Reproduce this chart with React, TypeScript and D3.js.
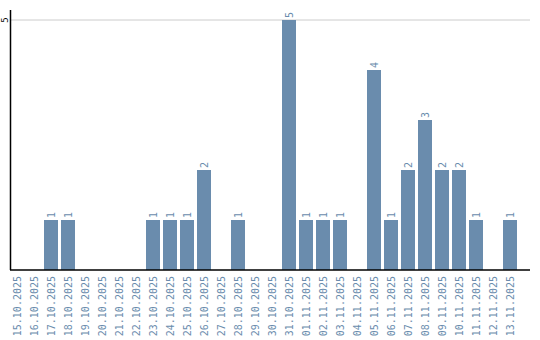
import React from "react";
import * as d3 from "d3";

const dates = [
  "15.10.2025","16.10.2025","17.10.2025","18.10.2025","19.10.2025","20.10.2025",
  "21.10.2025","22.10.2025","23.10.2025","24.10.2025","25.10.2025","26.10.2025",
  "27.10.2025","28.10.2025","29.10.2025","30.10.2025","31.10.2025","01.11.2025",
  "02.11.2025","03.11.2025","04.11.2025","05.11.2025","06.11.2025","07.11.2025",
  "08.11.2025","09.11.2025","10.11.2025","11.11.2025","12.11.2025","13.11.2025",
];
const counts = [0,0,1,1,0,0,0,0,1,1,1,2,0,1,0,0,5,1,1,1,0,4,1,2,3,2,2,1,0,1];
const yTicks = [5];

const W = 540, H = 340;
const left = 10, bottom = 270, top = 20;
const barColor = "#6a8cad";
const font = "DejaVu Sans Mono, monospace";

export default function App() {
  const x = d3.scaleBand<string>().domain(dates).range([left, left + 17 * dates.length - 3])
    .paddingInner(3 / 17).paddingOuter(0).align(0);
  const y = d3.scaleLinear().domain([0, 5]).range([bottom, top]);
  const bw = x.bandwidth();
  return (
    <svg width={W} height={H} style={{ position: "absolute", left: 0, top: 0 }}>
      {yTicks.map((t) => (
        <g key={t}>
          <line x1={left} x2={530} y1={y(t)} y2={y(t)} stroke="#cccccc" strokeWidth={1} />
          <text transform={`translate(8,${y(t)}) rotate(-90)`} textAnchor="middle" fontSize={9}
            fontFamily={font} fill="#000">{t}</text>
        </g>
      ))}
      {dates.map((d, i) => {
        const v = counts[i];
        const cx = (x(d) as number) + bw / 2;
        return (
          <g key={d}>
            {v > 0 && (
              <rect x={x(d)} y={y(v)} width={bw} height={y(0) - y(v)} fill={barColor} />
            )}
            {v > 0 && (
              <text transform={`translate(${cx + 3.5},${y(v) - 2}) rotate(-90)`} fontSize={10}
                fontFamily={font} fill={barColor}>{v}</text>
            )}
            <text transform={`translate(${cx + 4},${bottom + 6}) rotate(-90)`} textAnchor="end"
              fontSize={10} fontFamily={font} fill={barColor}>{d}</text>
          </g>
        );
      })}
      <line x1={left + 0.5} x2={left + 0.5} y1={10} y2={bottom} stroke="#000" strokeWidth={1.5} />
      <line x1={left} x2={530} y1={bottom} y2={bottom} stroke="#000" strokeWidth={1.5} />
    </svg>
  );
}
